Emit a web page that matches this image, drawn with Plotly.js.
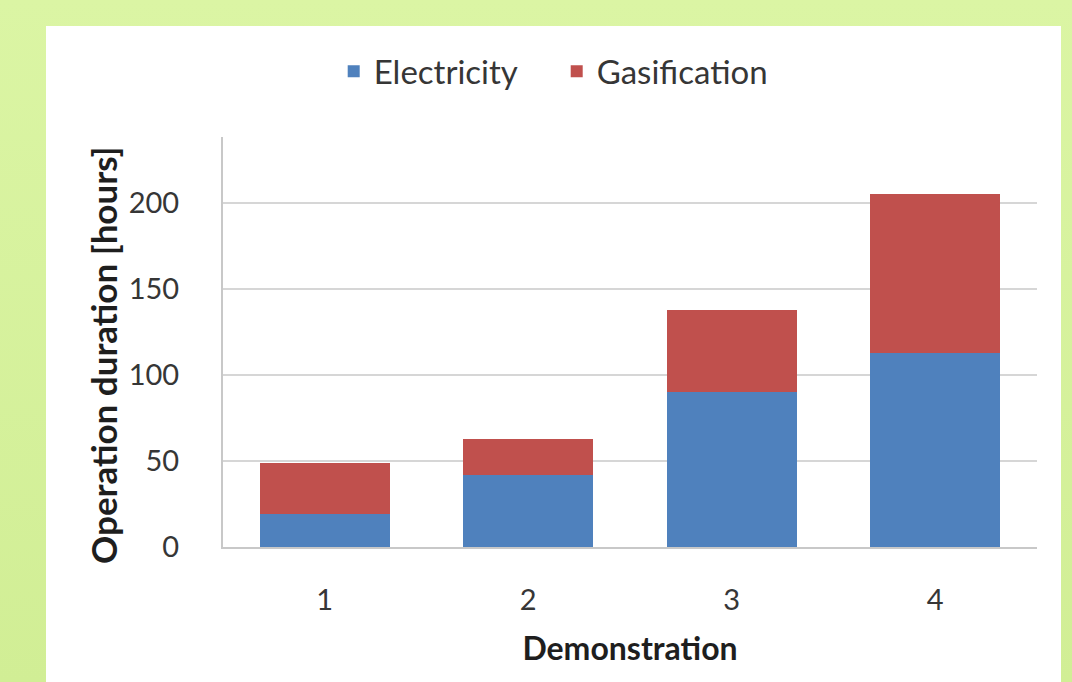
<!DOCTYPE html>
<html>
<head>
<meta charset="utf-8">
<script src="https://cdn.plot.ly/plotly-3.0.1.min.js"></script>
<style>
  html, body { margin: 0; padding: 0; width: 1072px; height: 682px; overflow: hidden;
    background: linear-gradient(#dbf5a4, #d1ee95); }
  #chart { position: absolute; left: 46px; top: 26px; width: 1015px; height: 656px; background: #ffffff; }
</style>
</head>
<body>
<div id="chart"></div>
<script>
const categories = ["1", "2", "3", "4"];
const electricity = [19, 42, 90, 113];
const gasification = [30, 21, 48, 92];
const seriesNames = ["Electricity", "Gasification"];
const yTicks = [0, 50, 100, 150, 200];
const yTitle = "Operation duration [hours]";
const xTitle = "Demonstration";

const FONT = "Lato, 'Open Sans', sans-serif";
const TXT = "#363636";

const data = [
  { type: "bar", name: seriesNames[0], x: categories, y: electricity,
    marker: { color: "#4f81bd" }, hoverinfo: "y" },
  { type: "bar", name: seriesNames[1], x: categories, y: gasification,
    marker: { color: "#c0504d" }, hoverinfo: "y" }
];

const layout = {
  width: 1015, height: 656,
  paper_bgcolor: "#ffffff", plot_bgcolor: "#ffffff",
  barmode: "stack", bargap: 0.36,
  margin: { l: 177, r: 24, t: 111, b: 135 },
  font: { family: FONT, color: TXT, size: 29 },
  showlegend: true,
  legend: { orientation: "h", x: 0.136, xanchor: "left", y: 1.16, yanchor: "middle",
    font: { family: FONT, size: 33, color: TXT }, traceorder: "normal", itemwidth: 30,
    entrywidth: 178 },
  xaxis: {
    type: "category", range: [-0.5, 3.5],
    showline: true, linecolor: "#c8c8c8", linewidth: 2,
    showgrid: false, ticks: "", ticklabelstandoff: 26,
    tickfont: { family: FONT, size: 29, color: TXT },
    title: { text: "<b>" + xTitle + "</b>", font: { family: FONT, size: 32, color: "#1e1e1e" }, standoff: 23 }
  },
  yaxis: {
    range: [0, 238.4], tickvals: yTicks, ticktext: yTicks.map(String),
    showline: true, linecolor: "#c8c8c8", linewidth: 2,
    showgrid: true, gridcolor: "#d6d6d6", gridwidth: 2,
    zeroline: false, ticks: "", ticklabelstandoff: 36,
    tickfont: { family: FONT, size: 29, color: TXT }
  },
  annotations: [{
    text: "<b>" + yTitle + "</b>", textangle: -90, showarrow: false,
    xref: "paper", yref: "paper", x: 0, y: 0.466, xanchor: "center", yanchor: "middle",
    xshift: -120, font: { family: FONT, size: 35, color: "#1e1e1e" }
  }]
};

Plotly.newPlot("chart", data, layout, { displayModeBar: false, staticPlot: true });
</script>
</body>
</html>
